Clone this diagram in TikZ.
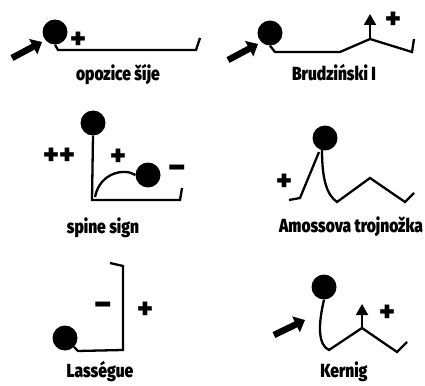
\documentclass[tikz,border=0pt]{standalone}
\usepackage{fontspec}
\newfontfamily\lblfont{Fira Sans}[FakeStretch=0.82, BoldFont={Fira Sans Black}]
\newfontfamily\signfont{Fira Sans}[BoldFont={Fira Sans Black}]
\usetikzlibrary{arrows.meta}
\tikzset{
  body/.style={line width=2.3pt, line join=miter, line cap=butt},
  head/.style={circle, fill=black, inner sep=0pt, minimum size=25pt},
  bigarrow/.style={line width=6.5pt, -{Triangle[length=10pt,width=17pt]}},
  smallarrow/.style={line width=1.8pt, -{Triangle[length=11pt,width=12pt]}},
  lbl/.style={font=\lblfont\bfseries\fontsize{19}{19}\selectfont, inner sep=0pt},
  sgn/.style={font=\signfont\bfseries\fontsize{29}{29}\selectfont, inner sep=0pt},
  mns/.style={font=\signfont\bfseries\fontsize{33}{33}\selectfont, inner sep=0pt}
}
\begin{document}
\begin{tikzpicture}[x=1pt,y=-1pt]
\useasboundingbox (0,0) rectangle (425,385);
% ---------- opozice sije
\node[head] (h1) at (55,32) {};
\coordinate (a1) at (58,50);
\coordinate (b1) at (196,50);
\coordinate (c1) at (200,38);
\draw[body] (h1.south) -- (a1) -- (b1) -- (c1);
\node[sgn] (p1) at (78,40) {+};
\coordinate (t1) at (12,58);
\coordinate (e1) at (42,42);
\draw[bigarrow] (t1) -- (e1);
\node[lbl] (l1) at (118,75) {opozice šíje};
% ---------- Brudzinski I
\node[head] (h2) at (270,33) {};
\coordinate (a2) at (275,52);
\coordinate (b2) at (340,52);
\coordinate (k2) at (370,39);
\coordinate (d2) at (412,52);
\coordinate (e2) at (414,39);
\draw[body] (h2.south) -- (a2) -- (b2) -- (k2) -- (d2) -- (e2);
\coordinate (u2) at (370,14);
\draw[smallarrow] (k2) -- (u2);
\node[sgn] (p2) at (393,20) {+};
\coordinate (t2) at (228,60);
\coordinate (e2a) at (258,44);
\draw[bigarrow] (t2) -- (e2a);
\node[lbl] (l2) at (334,73) {Brudziński I};
% ---------- spine sign
\node[head] (h3) at (93,123) {};
\coordinate (a3) at (92,200);
\coordinate (b3) at (180,200);
\coordinate (c3) at (182,188);
\draw[body] (h3.south) -- (a3) -- (b3) -- (c3);
\node[head] (f3) at (148,175) {};
\coordinate (s3) at (95,197);
\draw[body] (s3) .. controls (100,172) and (125,168) .. (f3.west);
\node[sgn] (pp3) at (59,156) {++};
\node[sgn] (p3) at (118,157) {+};
\node[mns] (m3) at (177,172) {−};
\node[lbl] (l3) at (103,228) {spine sign};
% ---------- Amossova trojnozka
\node[head] (h4) at (325,138) {};
\coordinate (f4) at (289,200);
\coordinate (g4) at (300,198);
\coordinate (k4) at (319,152);
\draw[body] (f4) -- (g4) -- (k4);
\coordinate (r4) at (322,150);
\coordinate (m4) at (337,202);
\coordinate (n4) at (370,178);
\coordinate (o4) at (405,202);
\coordinate (q4) at (414,193);
\draw[body] (r4) .. controls (322,180) and (327,195) .. (m4) -- (n4) -- (o4) -- (q4);
\node[sgn] (p4) at (284,182) {+};
\node[lbl] (l4) at (351,227) {Amossova trojnožka};
% ---------- Lasegue
\node[head] (h5) at (65,338) {};
\coordinate (a5) at (123,350);
\coordinate (b5) at (123,266);
\coordinate (c5) at (110,263);
\draw[body] (h5.south east) -- ++(4,4) -- (a5) -- (b5) -- (c5);
\node[mns] (m5) at (103,309) {−};
\node[sgn] (p5) at (145,310) {+};
\node[lbl] (l5) at (100,372) {Lasségue};
% ---------- Kernig
\node[head] (h6) at (324,287) {};
\coordinate (m6) at (329,350);
\coordinate (k6) at (362,328);
\coordinate (o6) at (397,352);
\coordinate (q6) at (407,342);
\draw[body] (h6.south) .. controls (318,325) and (318,345) .. (m6) -- (k6) -- (o6) -- (q6);
\coordinate (u6) at (362,304);
\draw[smallarrow] (k6) -- (u6);
\node[sgn] (p6) at (387,313) {+};
\coordinate (t6) at (274,335);
\coordinate (e6) at (305,320);
\draw[bigarrow] (t6) -- (e6);
\node[lbl] (l6) at (344,372) {Kernig};
\end{tikzpicture}
\end{document}
